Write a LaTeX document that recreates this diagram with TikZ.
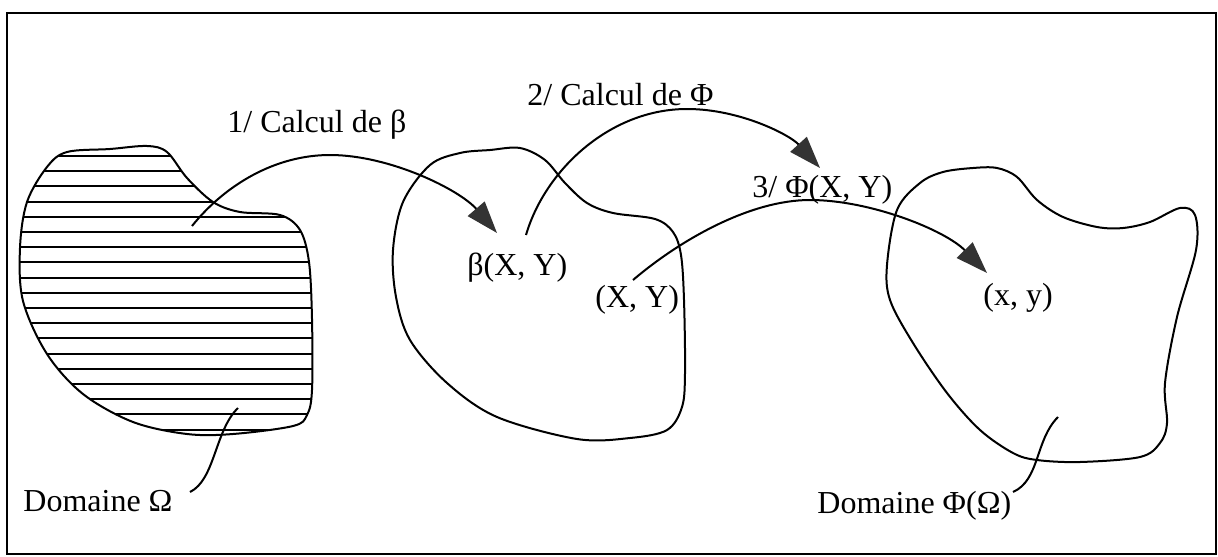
\documentclass[tikz,border=0pt]{standalone}
\usepackage{fontspec}
\setmainfont{Liberation Serif}
\usetikzlibrary{arrows.meta}
\begin{document}
\begin{tikzpicture}[x=0.5pt,y=-0.5pt,
  outline/.style={line width=1pt, draw=black},
  conn/.style={line width=1pt, -{Triangle[length=16pt,width=11pt,color=black!80]}},
  leader/.style={line width=1pt},
  lbl/.style={inner sep=0pt, anchor=base west, font=\fontsize{16}{19}\selectfont}]
\useasboundingbox (0,0) rectangle (1218,556);
\draw[line width=1pt] (7,13) rectangle (1216,554);

% Domain Omega (hatched)
\begin{scope}
\clip plot[smooth cycle, tension=0.55] coordinates {(47,167) (67,152) (110,149) (147,146) (167,152) (187,178) (213,202) (240,212) (280,215) (300,230) (309,262) (312,319) (312,390) (307,415) (293,426) (233,434) (187,434) (133,422) (83,394) (47,354) (23,301) (20,248) (27,202)};
\foreach \k in {0,...,18}
  \draw[line width=1pt] (0,{156+15.2*\k}) -- (330,{156+15.2*\k});
\end{scope}
\draw[outline] plot[smooth cycle, tension=0.55] coordinates {(47,167) (67,152) (110,149) (147,146) (167,152) (187,178) (213,202) (240,212) (280,215) (300,230) (309,262) (312,319) (312,390) (307,415) (293,426) (233,434) (187,434) (133,422) (83,394) (47,354) (23,301) (20,248) (27,202)};

% Domain 2
\draw[outline] plot[smooth cycle, tension=0.55] coordinates {(430,165) (460,153) (490,150) (520,148) (545,160) (565,183) (587,203) (613,213) (655,219) (673,232) (681,255) (684,300) (685,373) (682,407) (667,430) (630,438) (577,439) (497,417) (447,383) (410,340) (396,297) (393,250) (403,202)};

% Domain 3
\draw[outline] plot[smooth cycle, tension=0.55] coordinates {(973,168) (997,168) (1017,177) (1037,200) (1063,217) (1097,227) (1123,228) (1150,222) (1180,208) (1195,215) (1196,250) (1177,317) (1165,383) (1167,423) (1160,443) (1140,457) (1080,462) (1037,460) (1013,453) (980,430) (947,393) (913,343) (890,300) (887,265) (897,210) (920,183) (943,172)};

% labels
\node[lbl] (domO) at (23,511) {Domaine Ω};
\node[lbl] (domP) at (817,513) {Domaine Φ(Ω)};
\node[lbl] (c1) at (227,132) {1/ Calcul de β};
\node[lbl] (c2) at (527,105) {2/ Calcul de Φ};
\node[lbl] (c3) at (752,197) {3/ Φ(X, Y)};
\node[lbl] (bXY) at (467,275) {β(X, Y)};
\node[lbl] (XY) at (595,307) {(X, Y)};
\node[lbl] (xy) at (983,305) {(x, y)};

% connector coordinates
\coordinate (s1) at (192,226);
\coordinate (p1) at (330,155);
\coordinate (e1) at (497,233);
\coordinate (s2) at (526,235);
\coordinate (p2) at (687,109);
\coordinate (e2) at (820,168);
\coordinate (s3) at (633,280);
\coordinate (p3) at (810,200);
\coordinate (e3) at (987,273);
\coordinate (l1) at (238,408);
\coordinate (l1e) at (190,492);
\coordinate (l2) at (1058,417);
\coordinate (l2e) at (1013,492);

\draw[conn] (s1) .. controls (225,185) and (275,155) .. (p1) .. controls (390,155) and (460,190) .. (e1);
\draw[conn] (s2) .. controls (545,170) and (610,109) .. (p2) .. controls (740,109) and (790,135) .. (e2);
\draw[conn] (s3) .. controls (680,240) and (750,200) .. (p3) .. controls (870,200) and (945,230) .. (e3);

\draw[leader] (l1) .. controls (215,430) and (215,480) .. (l1e);
\draw[leader] (l2) .. controls (1035,440) and (1040,480) .. (l2e);
\end{tikzpicture}
\end{document}
